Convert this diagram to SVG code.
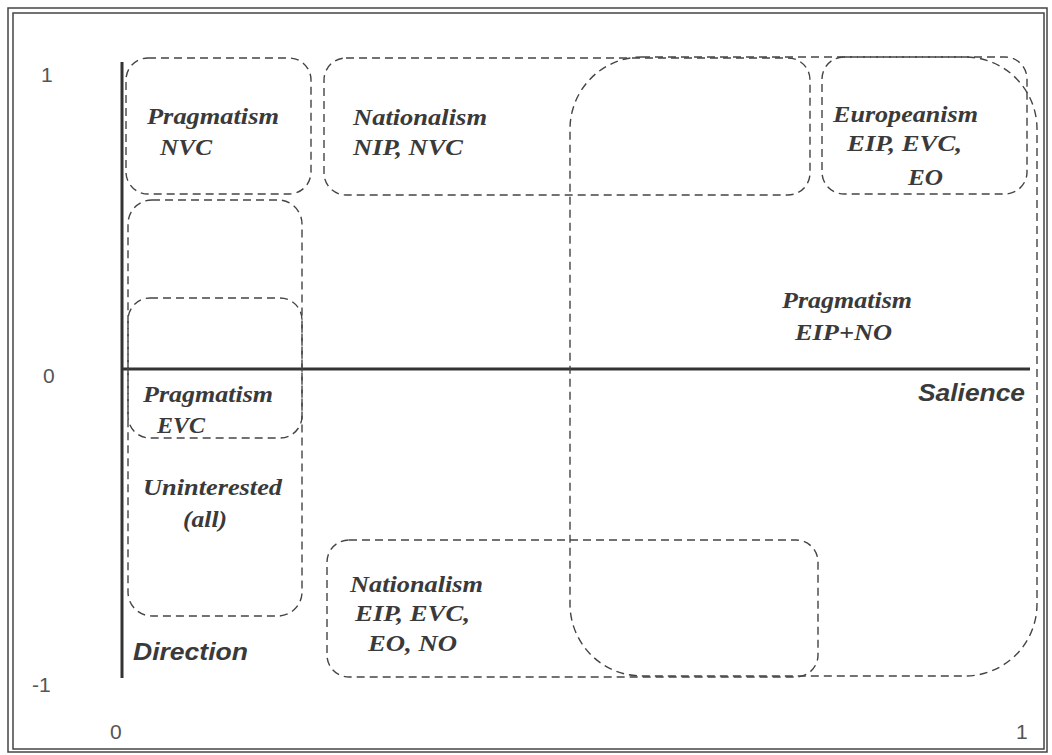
<svg xmlns="http://www.w3.org/2000/svg" width="1052" height="755" viewBox="0 0 1052 755">
  <style>
    .frame { fill: none; stroke: #444; stroke-width: 1.5; }
    .axis { stroke: #333; stroke-width: 3; fill: none; }
    .box { fill: none; stroke: #444; stroke-width: 1.4; stroke-dasharray: 8 5; }
    .lbl { font-family: "Liberation Serif", "Times New Roman", serif; font-weight: bold; font-style: italic; font-size: 23.5px; fill: #3a3a3a; }
    .ax { font-family: "Liberation Sans", Arial, sans-serif; font-weight: bold; font-style: italic; font-size: 23px; fill: #3a3a3a; }
    .num { font-family: "Liberation Sans", Arial, sans-serif; font-size: 21px; fill: #555; }
  </style>
  <rect x="0" y="0" width="1052" height="755" fill="#ffffff"/>
  <g id="frame">
    <rect class="frame" x="8" y="8" width="1039" height="744"/>
    <rect class="frame" x="13" y="13" width="1031" height="736" stroke-width="1"/>
  </g>
  <g id="axes">
    <line class="axis" x1="122" y1="62" x2="122" y2="678"/>
    <line class="axis" x1="122" y1="369" x2="1030" y2="369"/>
    <text class="num" x="41" y="82">1</text>
    <text class="num" x="43" y="383">0</text>
    <text class="num" x="32" y="692">-1</text>
    <text class="num" x="110" y="739">0</text>
    <text class="num" x="1016" y="739">1</text>
    <text class="ax" x="133" y="660" textLength="115" lengthAdjust="spacingAndGlyphs">Direction</text>
    <text class="ax" x="918" y="401" textLength="107" lengthAdjust="spacingAndGlyphs">Salience</text>
  </g>
  <g id="connectors"></g>
  <g id="big-pragmatism">
    <rect class="box" x="570" y="57" width="467" height="619" rx="72" ry="72"/>
    <text class="lbl" x="782" y="308" textLength="130" lengthAdjust="spacingAndGlyphs">Pragmatism</text>
    <text class="lbl" x="795" y="340" textLength="97" lengthAdjust="spacingAndGlyphs">EIP+NO</text>
  </g>
  <g id="pragmatism-nvc">
    <rect class="box" x="126" y="58" width="185" height="136" rx="22" ry="22"/>
    <text class="lbl" x="147" y="124" textLength="132" lengthAdjust="spacingAndGlyphs">Pragmatism</text>
    <text class="lbl" x="160" y="155" textLength="52" lengthAdjust="spacingAndGlyphs">NVC</text>
  </g>
  <g id="nationalism-top">
    <rect class="box" x="324" y="58" width="486" height="137" rx="22" ry="22"/>
    <text class="lbl" x="353" y="125" textLength="134" lengthAdjust="spacingAndGlyphs">Nationalism</text>
    <text class="lbl" x="353" y="155" textLength="110" lengthAdjust="spacingAndGlyphs">NIP, NVC</text>
  </g>
  <g id="europeanism">
    <rect class="box" x="822" y="57" width="205" height="137" rx="22" ry="22"/>
    <text class="lbl" x="833" y="122" textLength="145" lengthAdjust="spacingAndGlyphs">Europeanism</text>
    <text class="lbl" x="847" y="151" textLength="115" lengthAdjust="spacingAndGlyphs">EIP, EVC,</text>
    <text class="lbl" x="908" y="185" textLength="35" lengthAdjust="spacingAndGlyphs">EO</text>
  </g>
  <g id="uninterested">
    <rect class="box" x="128" y="200" width="174" height="416" rx="24" ry="24"/>
    <text class="lbl" x="143" y="495" textLength="139" lengthAdjust="spacingAndGlyphs">Uninterested</text>
    <text class="lbl" x="183" y="527" textLength="44" lengthAdjust="spacingAndGlyphs">(all)</text>
  </g>
  <g id="pragmatism-evc">
    <rect class="box" x="128" y="298" width="174" height="140" rx="22" ry="22"/>
    <text class="lbl" x="143" y="402" textLength="130" lengthAdjust="spacingAndGlyphs">Pragmatism</text>
    <text class="lbl" x="157" y="433" textLength="48" lengthAdjust="spacingAndGlyphs">EVC</text>
  </g>
  <g id="nationalism-bottom">
    <rect class="box" x="327" y="540" width="491" height="137" rx="22" ry="22"/>
    <text class="lbl" x="350" y="592" textLength="133" lengthAdjust="spacingAndGlyphs">Nationalism</text>
    <text class="lbl" x="355" y="621" textLength="115" lengthAdjust="spacingAndGlyphs">EIP, EVC,</text>
    <text class="lbl" x="368" y="651" textLength="89" lengthAdjust="spacingAndGlyphs">EO, NO</text>
  </g>
</svg>
